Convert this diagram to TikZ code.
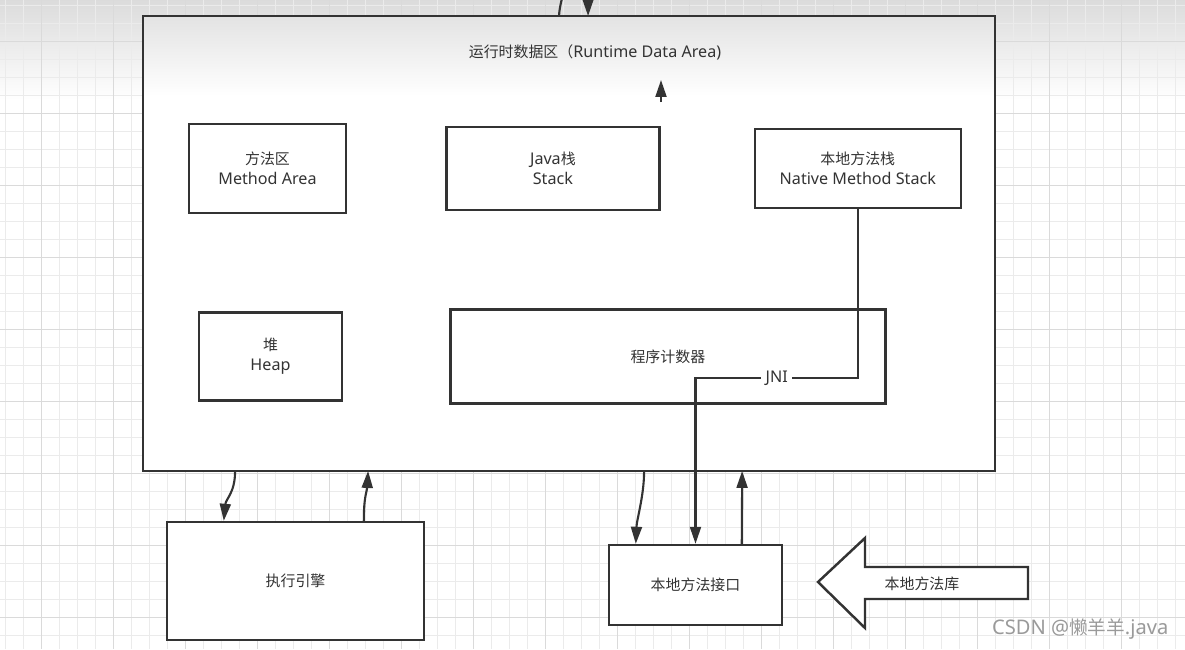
\documentclass[tikz,border=0pt]{standalone}
\usepackage{fontspec}
\setmainfont{Noto Sans}[Scale=1.08]
\newfontfamily\cjk{Noto Sans CJK SC}
\usetikzlibrary{arrows.meta, positioning, calc}
\definecolor{ink}{HTML}{333333}
\definecolor{gridminor}{HTML}{EBEBEB}
\definecolor{gridmajor}{HTML}{DADADA}
\definecolor{markgray}{HTML}{9A9A9A}

\begin{document}
\begin{tikzpicture}[
    x=0.02cm, y=-0.02cm,
    every node/.style={text=ink, font=\fontsize{8.5}{11.3}\selectfont},
    area/.style={rectangle, draw=ink, line width=1.4pt, fill=white, align=center, inner sep=0pt},
    conn/.style={-{Triangle[length=0.34cm, width=0.22cm]}, draw=ink, line width=1.2pt},
    wire/.style={draw=ink, line width=1.2pt}
]

% Background
\useasboundingbox (0,0) rectangle (1185,649);
\clip (0,0) rectangle (1185,649);
\fill[white] (0,0) rectangle (1185,649);
\shade[top color=black!14, bottom color=white] (0,0) rectangle (1185,100);
\foreach \k in {0,...,65} \draw[gridminor, line width=0.55pt] (5.5+18*\k,0) -- (5.5+18*\k,649);
\foreach \k in {0,...,36} \draw[gridminor, line width=0.55pt] (0,5+18*\k) -- (1185,5+18*\k);
\foreach \k in {0,...,16} \draw[gridmajor, line width=0.55pt] (41.5+72*\k,0) -- (41.5+72*\k,649);
\foreach \k in {0,...,8} \draw[gridmajor, line width=0.55pt] (0,41+72*\k) -- (1185,41+72*\k);

% Nodes
\node (rda) [area, draw=none, outer sep=0pt, minimum width=17.04cm, minimum height=9.1cm] at (569,243.5) {};
\shade[top color=black!11, bottom color=white] (rda.north west) rectangle ($(rda.north east)+(0,80)$);
\draw[ink, line width=1.4pt] (rda.north west) rectangle (rda.south east);
\node (title) at (595,52) {{\cjk 运行时数据区（}Runtime Data Area)};

\node (method) [area, minimum width=3.14cm, minimum height=1.78cm] at (267.5,168.5) {{\cjk 方法区}\\Method Area};
\node (stack) [area, minimum width=4.26cm, minimum height=1.66cm, right=1.96cm of method] {Java{\cjk 栈}\\Stack};
\node (native) [area, minimum width=4.12cm, minimum height=1.58cm, right=1.86cm of stack] {{\cjk 本地方法栈}\\Native Method Stack};
\node (heap) [area, minimum width=2.86cm, minimum height=1.76cm, below=1.94cm of method, xshift=0.06cm] {{\cjk 堆}\\Heap};
\node (pc) [area, minimum width=8.7cm, minimum height=1.88cm, right=2.12cm of heap] {\cjk 程序计数器};

\node (engine) [area, minimum width=5.14cm, minimum height=2.36cm] at (295.5,581) {\cjk 执行引擎};
\node (iface) [area, minimum width=3.46cm, minimum height=1.6cm] at (695.5,585) {\cjk 本地方法接口};

% Library arrow
\draw[ink, line width=1.4pt, fill=white, line join=miter] (818,582) -- (865,538) -- (865,567) -- (1028,567) -- (1028,599) -- (865,599) -- (865,628) -- cycle;
\node (lib) at (922,584) {\cjk 本地方法库};

% Arrows
\coordinate (topout) at (565,-12);
\coordinate (topin) at (588,-12);
\coordinate (upfrom) at (661,102);
\coordinate (upto) at (661,80);
\draw[wire] ($(rda.north west)+(416,0)$) .. controls +(0,-8) and +(-2,6) .. (topout);
\draw[conn] (topin) -- ($(rda.north west)+(445,0)$);
\draw[conn] (upfrom) -- (upto);

\draw[conn] (native.south) -- ++(0,169) -| node[pos=0.25, fill=white, inner xsep=2.5pt, inner ysep=0pt] {JNI} (iface.north);

\draw[conn] ($(rda.south west)+(92,0)$) .. controls +(0,22) and +(2,-22) .. ($(engine.north west)+(58,0)$);
\draw[conn] ($(engine.north west)+(198,0)$) .. controls +(0,-25) and +(-1,20) .. ($(rda.south west)+(225,0)$);
\draw[conn] ($(rda.south west)+(501,0)$) .. controls +(0,25) and +(1,-25) .. ($(iface.north west)+(28,0)$);
\draw[conn] ($(iface.north west)+(134,0)$) .. controls +(0,-30) and +(0,30) .. ($(rda.south west)+(599,0)$);

% Watermark
\node (mark) [anchor=east, text=markgray, font=\fontsize{10.6}{12}\selectfont] at (1175,629) {CSDN @{\cjk 懒羊羊}.java};

\end{tikzpicture}
\end{document}
